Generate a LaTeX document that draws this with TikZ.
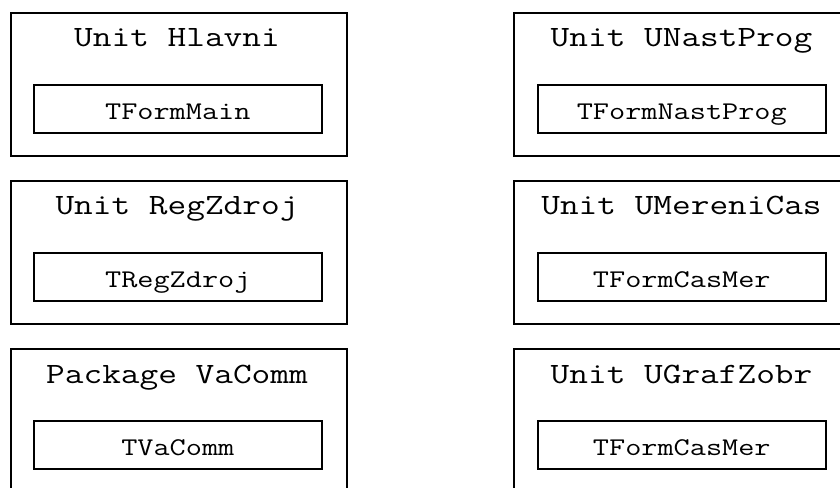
\documentclass[tikz,border=0pt]{standalone}
\usepackage{fontspec}
% wide typewriter lettering: Latin Modern Mono, stretched horizontally
\newcommand\widetype[1]{\scalebox{1.23}[1]{#1}}
\begin{document}
\begin{tikzpicture}[x=1bp,y=-1bp,
  unitbox/.style={draw,line width=1.8bp,rectangle,anchor=north west,inner sep=0pt,
    minimum width=336bp,minimum height=143bp},
  classbox/.style={draw,line width=1.6bp,rectangle,anchor=north west,inner sep=0pt,
    minimum width=288bp,minimum height=48bp,
    font=\fontsize{25.5bp}{25.5bp}\selectfont\ttfamily,text height=22bp,text depth=0pt},
  unittitle/.style={anchor=base,inner sep=0pt,font=\fontsize{29.5bp}{29.5bp}\selectfont\ttfamily}]
\clip (0,0) rectangle (840,488);
\useasboundingbox (0,0) rectangle (840,488);

% left column
\node[unitbox] (uhl) at (10,12) {};
\node[unittitle] (thl) at (177,47) {\widetype{Unit Hlavni}};
\node[classbox] (cmain) at (33,84) {\widetype{TFormMain}};

\node[unitbox] (urz) at (10,180) {};
\node[unittitle] (trz) at (177,215) {\widetype{Unit RegZdroj}};
\node[classbox] (crz) at (33,252) {\widetype{TRegZdroj}};

\node[unitbox] (uvc) at (10,348) {};
\node[unittitle] (tvc) at (177,383) {\widetype{Package VaComm}};
\node[classbox] (cvc) at (33,420) {\widetype{TVaComm}};

% right column
\node[unitbox] (unp) at (513,12) {};
\node[unittitle] (tnp) at (681.5,47) {\widetype{Unit UNastProg}};
\node[classbox] (cnp) at (537,84) {\widetype{TFormNastProg}};

\node[unitbox] (umc) at (513,180) {};
\node[unittitle] (tmc) at (681.5,215) {\widetype{Unit UMereniCas}};
\node[classbox] (cmc) at (537,252) {\widetype{TFormCasMer}};

\node[unitbox] (ugz) at (513,348) {};
\node[unittitle] (tgz) at (681.5,383) {\widetype{Unit UGrafZobr}};
\node[classbox] (cgz) at (537,420) {\widetype{TFormCasMer}};
\end{tikzpicture}
\end{document}
